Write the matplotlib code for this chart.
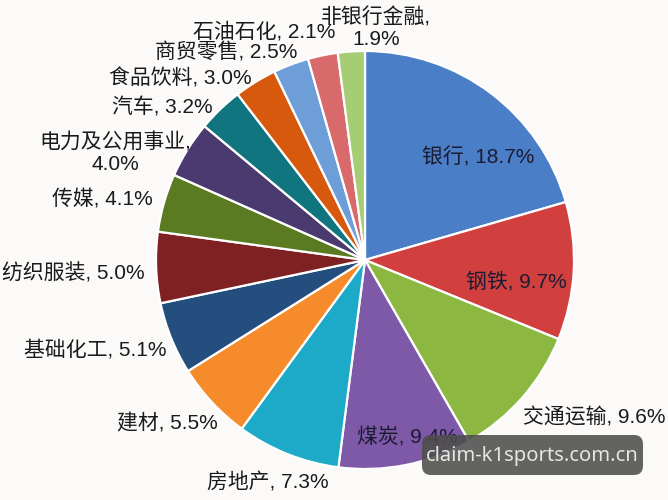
import matplotlib
matplotlib.use("Agg")
import matplotlib.pyplot as plt
from matplotlib.patches import FancyBboxPatch

# ---- data ----
categories = ["银行", "钢铁", "交通运输", "煤炭", "房地产", "建材", "基础化工",
              "纺织服装", "传媒", "电力及公用事业", "汽车", "食品饮料",
              "商贸零售", "石油石化", "非银行金融"]
values = [18.7, 9.7, 9.6, 9.4, 7.3, 5.5, 5.1, 5.0, 4.1, 4.0, 3.2, 3.0, 2.5, 2.1, 1.9]
colors = ["#4A7EC6", "#D1403F", "#8CB842", "#7E59A8", "#1DAAC8", "#F68B2C",
          "#244E7E", "#7F2023", "#5B7B22", "#4A3A6F", "#10757F", "#D6590E",
          "#6E9ED8", "#D96A6B", "#A6CD73"]
label_breaks = {"电力及公用事业": "\n", "非银行金融": "\n"}

# ---- layout (pixel positions, y from top) ----
W, H = 668, 500
cx, cy, R = 365, 260, 209
label_pos = {
    "银行": (478, 157, "center"),
    "钢铁": (516, 282, "center"),
    "交通运输": (523, 417, "left"),
    "煤炭": (357, 437, "left"),
    "房地产": (207, 482, "left"),
    "建材": (218, 423, "right"),
    "基础化工": (166, 350, "right"),
    "纺织服装": (145, 273, "right"),
    "传媒": (153, 200, "right"),
    "电力及公用事业": (115, 153, "center"),
    "汽车": (213, 107, "right"),
    "食品饮料": (252, 78, "right"),
    "商贸零售": (297, 52, "right"),
    "石油石化": (335, 32, "right"),
    "非银行金融": (376, 28, "center"),
}
inside = {"银行", "钢铁", "煤炭"}

plt.rcParams['font.family'] = ['Liberation Sans', 'Noto Sans CJK SC', 'DejaVu Sans']

fig = plt.figure(figsize=(W / 100, H / 100), dpi=100)
bg = "#FBFAF8"
fig.patch.set_facecolor(bg)
ax = fig.add_axes([0, 0, 1, 1])
ax.set_facecolor(bg)
ax.set_xlim(0, W)
ax.set_ylim(0, H)
ax.set_aspect("equal")
ax.axis("off")

ax.pie(values, colors=colors, startangle=90, counterclock=False,
       center=(cx, H - cy), radius=R, frame=True,
       wedgeprops=dict(edgecolor="white", linewidth=1.6))
ax.set_xlim(0, W)
ax.set_ylim(0, H)
ax.axis("off")

for name, v in zip(categories, values):
    x, y, ha = label_pos[name]
    sep = label_breaks.get(name, " ")
    txt = f"{name},{sep}{v:.1f}%"
    col = "#1B1B33" if name in inside else "#1A1A1A"
    ax.text(x, H - y, txt, ha=ha, va="center", fontsize=15, color=col,
            multialignment="center", linespacing=1.2)

# watermark
box = FancyBboxPatch((422, H - 475), 221, 40,
                     boxstyle="round,pad=0,rounding_size=9",
                     facecolor="#4E4E4C", edgecolor="none", alpha=0.88, zorder=5)
ax.add_patch(box)
ax.text(532, H - 456, "claim-k1sports.com.cn", ha="center", va="center",
        fontsize=14.5, color="#E6E6E4", family="Noto Sans", zorder=6)

fig.savefig("out.png", dpi=100, facecolor=bg)
